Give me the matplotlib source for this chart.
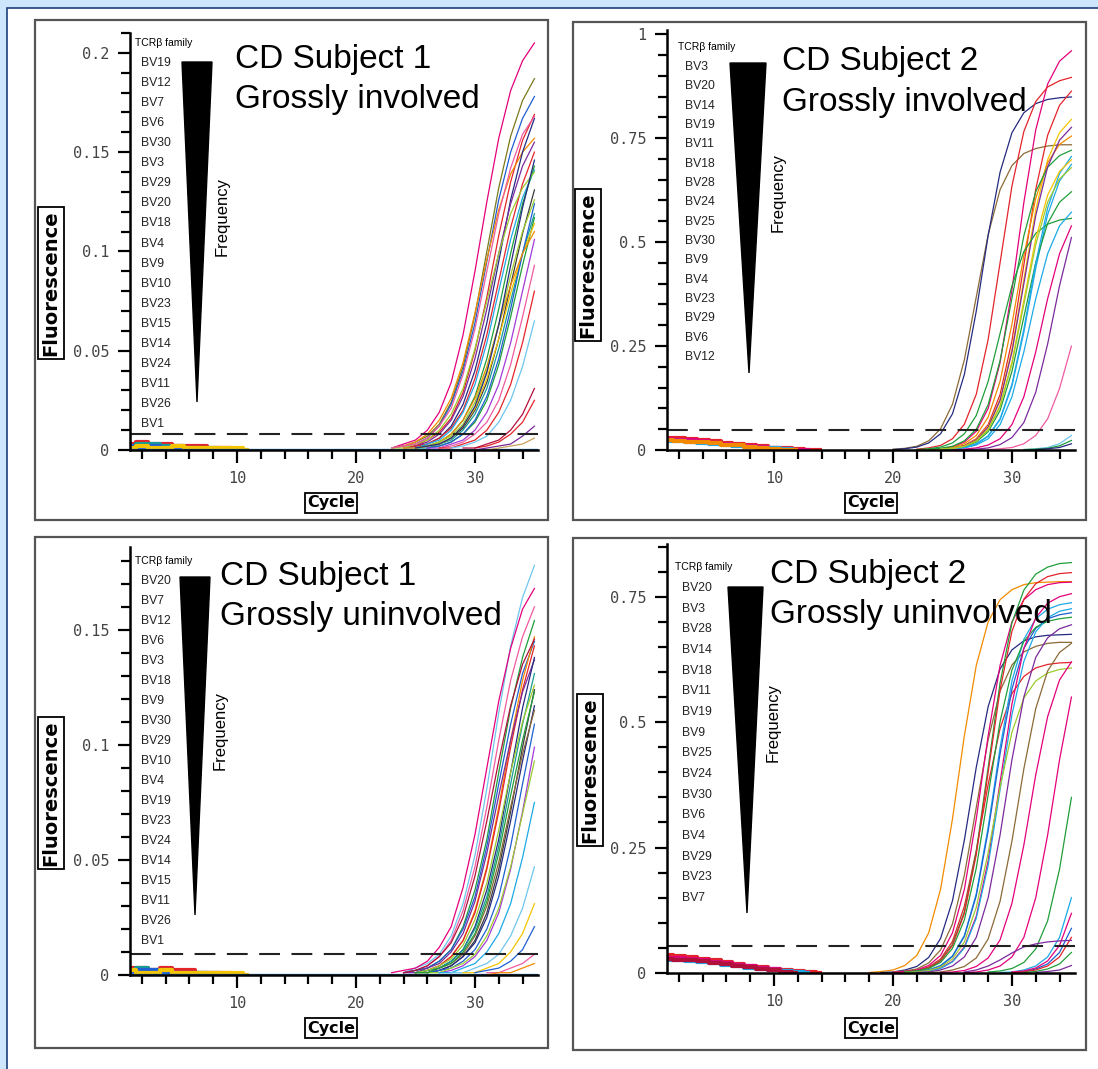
import numpy as np
import matplotlib
matplotlib.use("Agg")
import matplotlib.pyplot as plt
from matplotlib.patches import Rectangle, Polygon

# ---- data (fluorescence per cycle; each curve ends at cycle 35) ----
p1_curves = [
    [0.001, 0.003, 0.005, 0.010, 0.019, 0.034, 0.058, 0.090, 0.125, 0.157, 0.181, 0.196, 0.205],
    [0.001, 0.002, 0.004, 0.007, 0.013, 0.024, 0.042, 0.068, 0.100, 0.132, 0.158, 0.176, 0.187],
    [0.001, 0.002, 0.003, 0.006, 0.012, 0.023, 0.040, 0.064, 0.095, 0.126, 0.150, 0.167, 0.178],
    [0.001, 0.002, 0.005, 0.009, 0.016, 0.029, 0.050, 0.077, 0.108, 0.135, 0.156, 0.169],
    [0.001, 0.002, 0.004, 0.008, 0.015, 0.026, 0.044, 0.069, 0.096, 0.121, 0.139, 0.150, 0.157],
    [0.001, 0.002, 0.003, 0.006, 0.012, 0.023, 0.040, 0.064, 0.095, 0.126, 0.150, 0.167],
    [0.001, 0.002, 0.004, 0.008, 0.015, 0.027, 0.046, 0.071, 0.099, 0.124, 0.143, 0.155],
    [0.001, 0.002, 0.003, 0.006, 0.011, 0.020, 0.036, 0.058, 0.085, 0.112, 0.134, 0.150],
    [0.001, 0.001, 0.003, 0.005, 0.010, 0.019, 0.033, 0.054, 0.080, 0.106, 0.127, 0.141],
    [0.001, 0.002, 0.004, 0.008, 0.015, 0.027, 0.046, 0.071, 0.099, 0.124, 0.143],
    [0.001, 0.001, 0.003, 0.005, 0.010, 0.018, 0.031, 0.051, 0.075, 0.099, 0.119, 0.132, 0.140],
    [0.001, 0.002, 0.003, 0.006, 0.011, 0.020, 0.034, 0.056, 0.083, 0.109, 0.131],
    [0.001, 0.001, 0.003, 0.005, 0.010, 0.018, 0.031, 0.051, 0.075, 0.099, 0.119],
    [0.001, 0.002, 0.004, 0.008, 0.014, 0.025, 0.043, 0.067, 0.093, 0.117],
    [0.001, 0.002, 0.003, 0.006, 0.012, 0.021, 0.036, 0.056, 0.079, 0.099, 0.114],
    [0.001, 0.002, 0.004, 0.008, 0.015, 0.027, 0.046, 0.071, 0.099, 0.124],
    [0.001, 0.001, 0.002, 0.004, 0.008, 0.015, 0.026, 0.042, 0.063, 0.083, 0.099, 0.110],
    [0.001, 0.001, 0.003, 0.005, 0.010, 0.019, 0.033, 0.054, 0.080, 0.106],
    [0.001, 0.002, 0.004, 0.008, 0.014, 0.025, 0.043, 0.067, 0.093],
    [0.001, 0.001, 0.003, 0.005, 0.010, 0.019, 0.033, 0.054, 0.080],
    [0.001, 0.002, 0.004, 0.007, 0.014, 0.025, 0.042, 0.065],
    [0.001, 0.002, 0.004, 0.008, 0.014, 0.025],
    [0.001, 0.001, 0.003, 0.005, 0.010, 0.018, 0.031],
    [0.000, 0.001, 0.002, 0.003, 0.007, 0.012],
    [0.000, 0.001, 0.002, 0.003, 0.006],
    [0.001, 0.002, 0.003, 0.006, 0.012, 0.021, 0.038, 0.061, 0.090, 0.119, 0.142, 0.159, 0.168],
    [0.001, 0.002, 0.004, 0.007, 0.013, 0.024, 0.040, 0.063, 0.088, 0.110, 0.126],
    [0.001, 0.002, 0.003, 0.006, 0.012, 0.022, 0.039, 0.063, 0.093, 0.122, 0.146],
]
p1_base = [
    [0.003, 0.004, 0.003, 0.003, 0.002, 0.002, 0.002, 0.001, 0.001, 0.000],
    [0.002, 0.003, 0.003, 0.002, 0.002, 0.001, 0.001, 0.001, 0.000],
    [0.002, 0.001, 0.002, 0.001, 0.001, 0.001, 0.000],
    [0.001, 0.002, 0.001, 0.001, 0.002, 0.001, 0.001, 0.001, 0.001, 0.001, 0.000],
]

p2_curves = [
    [0.002, 0.004, 0.009, 0.022, 0.051, 0.110, 0.217, 0.368, 0.518, 0.626, 0.684, 0.713, 0.725, 0.731, 0.734, 0.734],
    [0.001, 0.003, 0.007, 0.017, 0.039, 0.087, 0.182, 0.334, 0.516, 0.668, 0.763, 0.811, 0.833, 0.843, 0.847, 0.849],
    [0.001, 0.003, 0.008, 0.019, 0.045, 0.100, 0.210, 0.385, 0.595, 0.770, 0.880, 0.935, 0.960],
    [0.002, 0.005, 0.011, 0.027, 0.062, 0.134, 0.266, 0.450, 0.635, 0.766, 0.838, 0.873, 0.888, 0.896],
    [0.002, 0.005, 0.011, 0.027, 0.061, 0.133, 0.263, 0.445, 0.627, 0.757, 0.829, 0.863],
    [0.002, 0.004, 0.010, 0.025, 0.057, 0.122, 0.242, 0.410, 0.578, 0.698, 0.763, 0.795],
    [0.001, 0.003, 0.006, 0.015, 0.035, 0.079, 0.165, 0.303, 0.467, 0.605, 0.691, 0.735, 0.755],
    [0.002, 0.004, 0.009, 0.022, 0.050, 0.109, 0.215, 0.365, 0.515, 0.621, 0.680, 0.708, 0.721],
    [0.001, 0.003, 0.006, 0.014, 0.033, 0.073, 0.154, 0.283, 0.437, 0.566, 0.647, 0.687],
    [0.002, 0.004, 0.010, 0.024, 0.055, 0.119, 0.236, 0.400, 0.564, 0.681, 0.745, 0.776],
    [0.001, 0.003, 0.008, 0.019, 0.044, 0.095, 0.189, 0.320, 0.451, 0.545, 0.596, 0.621],
    [0.001, 0.003, 0.007, 0.017, 0.039, 0.083, 0.165, 0.280, 0.395, 0.477, 0.521, 0.543, 0.553, 0.557],
    [0.001, 0.002, 0.005, 0.012, 0.027, 0.061, 0.128, 0.236, 0.364, 0.472, 0.539, 0.572],
    [0.001, 0.002, 0.005, 0.012, 0.027, 0.061, 0.128, 0.236, 0.364, 0.472, 0.539],
    [0.001, 0.002, 0.005, 0.013, 0.030, 0.066, 0.139, 0.255, 0.395, 0.511],
    [0.001, 0.003, 0.006, 0.015, 0.035, 0.075, 0.148, 0.250],
    [0.001, 0.003, 0.006, 0.015, 0.035],
    [0.001, 0.002, 0.004, 0.010, 0.023],
    [0.001, 0.003, 0.006, 0.015],
    [0.001, 0.003, 0.006, 0.015, 0.034, 0.075, 0.158, 0.291, 0.449, 0.582, 0.665, 0.706],
    [0.002, 0.004, 0.009, 0.022, 0.050, 0.107, 0.212, 0.360, 0.508, 0.613, 0.670, 0.698],
    [0.002, 0.004, 0.009, 0.021, 0.048, 0.104, 0.207, 0.350, 0.494, 0.596, 0.652, 0.679],
]
p2_base = [
    [0.030, 0.028, 0.026, 0.024, 0.021, 0.018, 0.015, 0.012, 0.009, 0.006, 0.004, 0.002, 0.001, 0.000],
    [0.026, 0.025, 0.023, 0.021, 0.018, 0.015, 0.013, 0.010, 0.007, 0.005, 0.003, 0.001, 0.000],
    [0.022, 0.021, 0.019, 0.017, 0.015, 0.013, 0.010, 0.008, 0.006, 0.004, 0.002, 0.000],
    [0.024, 0.022, 0.020, 0.019, 0.016, 0.013, 0.011, 0.008, 0.005, 0.003, 0.001, 0.000],
]

p3_curves = [
    [0.001, 0.003, 0.005, 0.009, 0.017, 0.031, 0.052, 0.081, 0.114, 0.143, 0.164, 0.178],
    [0.001, 0.002, 0.003, 0.006, 0.012, 0.021, 0.038, 0.061, 0.090, 0.119, 0.142, 0.159, 0.168],
    [0.001, 0.002, 0.004, 0.008, 0.015, 0.028, 0.047, 0.073, 0.102, 0.128, 0.147, 0.160],
    [0.001, 0.002, 0.003, 0.006, 0.011, 0.021, 0.037, 0.059, 0.088, 0.116, 0.138, 0.154],
    [0.001, 0.002, 0.003, 0.006, 0.011, 0.020, 0.034, 0.056, 0.083, 0.109, 0.131, 0.145],
    [0.001, 0.002, 0.004, 0.008, 0.015, 0.028, 0.047, 0.073, 0.102, 0.128, 0.147],
    [0.001, 0.002, 0.004, 0.008, 0.015, 0.027, 0.046, 0.071, 0.099, 0.124, 0.143],
    [0.001, 0.001, 0.003, 0.005, 0.010, 0.018, 0.032, 0.053, 0.078, 0.102, 0.123, 0.137],
    [0.001, 0.002, 0.003, 0.006, 0.011, 0.021, 0.037, 0.059, 0.088, 0.116, 0.138],
    [0.001, 0.002, 0.003, 0.006, 0.011, 0.020, 0.034, 0.056, 0.083, 0.109, 0.131],
    [0.001, 0.002, 0.004, 0.007, 0.013, 0.024, 0.040, 0.063, 0.088, 0.110, 0.126],
    [0.001, 0.002, 0.004, 0.008, 0.015, 0.027, 0.046, 0.071, 0.099, 0.124],
    [0.001, 0.002, 0.004, 0.008, 0.014, 0.025, 0.043, 0.067, 0.093, 0.117],
    [0.001, 0.001, 0.003, 0.005, 0.009, 0.017, 0.030, 0.049, 0.073, 0.096, 0.115],
    [0.001, 0.002, 0.003, 0.006, 0.011, 0.020, 0.034, 0.056, 0.083, 0.109],
    [0.001, 0.002, 0.004, 0.008, 0.015, 0.027, 0.046, 0.071, 0.099],
    [0.001, 0.001, 0.003, 0.005, 0.009, 0.017, 0.029, 0.047, 0.070, 0.093],
    [0.001, 0.001, 0.003, 0.005, 0.010, 0.018, 0.031, 0.051, 0.075],
    [0.001, 0.001, 0.003, 0.005, 0.009, 0.017, 0.029, 0.047],
    [0.001, 0.001, 0.003, 0.005, 0.010, 0.018, 0.031],
    [0.001, 0.002, 0.003, 0.006, 0.011, 0.021],
    [0.001, 0.001, 0.003, 0.005, 0.009],
    [0.000, 0.001, 0.001, 0.003, 0.005],
    [0.001, 0.002, 0.004, 0.008, 0.014, 0.025, 0.043, 0.067, 0.093, 0.117, 0.135, 0.146],
    [0.001, 0.001, 0.003, 0.005, 0.010, 0.018, 0.032, 0.053, 0.078, 0.102, 0.123],
]
p3_base = [
    [0.003, 0.003, 0.002, 0.003, 0.002, 0.002, 0.001, 0.001, 0.001, 0.000],
    [0.002, 0.003, 0.002, 0.002, 0.001, 0.001, 0.001, 0.000],
    [0.001, 0.002, 0.002, 0.001, 0.001, 0.001, 0.001, 0.001, 0.000],
    [0.002, 0.001, 0.001, 0.002, 0.001, 0.001, 0.001, 0.001, 0.001, 0.001, 0.000],
]

p4_curves = [
    [0.001, 0.003, 0.006, 0.015, 0.035, 0.080, 0.167, 0.307, 0.473, 0.613, 0.700, 0.744, 0.764, 0.774, 0.778, 0.779, 0.780, 0.780],
    [0.001, 0.002, 0.006, 0.013, 0.031, 0.069, 0.144, 0.265, 0.410, 0.531, 0.606, 0.644, 0.662, 0.670, 0.673, 0.674, 0.675],
    [0.002, 0.004, 0.008, 0.020, 0.046, 0.098, 0.195, 0.330, 0.465, 0.562, 0.614, 0.640, 0.651, 0.657, 0.659, 0.659],
    [0.001, 0.002, 0.005, 0.012, 0.028, 0.063, 0.133, 0.244, 0.376, 0.487, 0.557, 0.591, 0.608, 0.615, 0.618, 0.619],
    [0.001, 0.003, 0.006, 0.015, 0.035, 0.080, 0.167, 0.307, 0.473, 0.613, 0.700, 0.744, 0.764, 0.774, 0.778, 0.779],
    [0.002, 0.004, 0.010, 0.025, 0.057, 0.122, 0.242, 0.410, 0.578, 0.698, 0.763, 0.795, 0.809, 0.816, 0.818],
    [0.002, 0.004, 0.010, 0.024, 0.055, 0.119, 0.236, 0.400, 0.564, 0.681, 0.745, 0.776, 0.790, 0.796, 0.798],
    [0.001, 0.003, 0.006, 0.015, 0.034, 0.075, 0.158, 0.291, 0.449, 0.582, 0.665, 0.706, 0.725, 0.734, 0.738],
    [0.001, 0.003, 0.006, 0.014, 0.033, 0.073, 0.154, 0.283, 0.437, 0.566, 0.647, 0.687, 0.706, 0.714, 0.718],
    [0.002, 0.004, 0.009, 0.021, 0.049, 0.106, 0.209, 0.355, 0.501, 0.604, 0.661, 0.689, 0.701, 0.706, 0.709],
    [0.002, 0.004, 0.010, 0.023, 0.052, 0.113, 0.224, 0.380, 0.536, 0.647, 0.708, 0.737, 0.750, 0.756],
    [0.002, 0.004, 0.009, 0.022, 0.050, 0.109, 0.215, 0.365, 0.515, 0.621, 0.680, 0.708, 0.721, 0.726],
    [0.001, 0.002, 0.005, 0.012, 0.028, 0.062, 0.131, 0.240, 0.370, 0.480, 0.548, 0.582, 0.598, 0.605, 0.608],
    [0.001, 0.002, 0.006, 0.014, 0.032, 0.071, 0.150, 0.275, 0.425, 0.550, 0.629, 0.668, 0.686, 0.694],
    [0.001, 0.002, 0.006, 0.013, 0.030, 0.068, 0.143, 0.263, 0.407, 0.527, 0.602, 0.639, 0.657],
    [0.001, 0.002, 0.005, 0.013, 0.030, 0.066, 0.139, 0.255, 0.395, 0.511, 0.584, 0.620],
    [0.001, 0.002, 0.006, 0.014, 0.032, 0.071, 0.150, 0.275, 0.425, 0.550],
    [0.002, 0.004, 0.009, 0.021, 0.048, 0.104, 0.207, 0.350],
    [0.001, 0.002, 0.006, 0.014, 0.032, 0.071, 0.150],
    [0.001, 0.003, 0.008, 0.018, 0.041, 0.089],
    [0.002, 0.004, 0.010, 0.024, 0.055, 0.119],
    [0.001, 0.002, 0.006, 0.014, 0.032, 0.071],
    [0.001, 0.003, 0.008, 0.018, 0.041],
    [0.002, 0.006, 0.014, 0.026, 0.040, 0.052, 0.058, 0.062, 0.064, 0.065],
    [0.001, 0.003, 0.006, 0.015],
]
p4_base = [
    [0.035, 0.033, 0.031, 0.028, 0.025, 0.021, 0.018, 0.014, 0.011, 0.008, 0.005, 0.003, 0.001, 0.000],
    [0.030, 0.029, 0.027, 0.025, 0.022, 0.019, 0.016, 0.013, 0.010, 0.007, 0.004, 0.002, 0.000],
    [0.026, 0.025, 0.023, 0.021, 0.019, 0.016, 0.013, 0.010, 0.007, 0.005, 0.003, 0.001, 0.000],
    [0.028, 0.026, 0.025, 0.023, 0.020, 0.017, 0.014, 0.011, 0.008, 0.005, 0.002, 0.000],
]

thresholds = [0.008, 0.048, 0.009, 0.054]

titles = [("CD Subject 1", "Grossly involved"), ("CD Subject 2", "Grossly involved"),
          ("CD Subject 1", "Grossly uninvolved"), ("CD Subject 2", "Grossly uninvolved")]

families = [
    ["BV19", "BV12", "BV7", "BV6", "BV30", "BV3", "BV29", "BV20", "BV18", "BV4",
     "BV9", "BV10", "BV23", "BV15", "BV14", "BV24", "BV11", "BV26", "BV1"],
    ["BV3", "BV20", "BV14", "BV19", "BV11", "BV18", "BV28", "BV24", "BV25", "BV30",
     "BV9", "BV4", "BV23", "BV29", "BV6", "BV12"],
    ["BV20", "BV7", "BV12", "BV6", "BV3", "BV18", "BV9", "BV30", "BV29", "BV10",
     "BV4", "BV19", "BV23", "BV24", "BV14", "BV15", "BV11", "BV26", "BV1"],
    ["BV20", "BV3", "BV28", "BV14", "BV18", "BV11", "BV19", "BV9", "BV25", "BV24",
     "BV30", "BV6", "BV4", "BV29", "BV23", "BV7"],
]

y_ticks = [[0, 0.05, 0.1, 0.15, 0.2], [0, 0.25, 0.5, 0.75, 1], [0, 0.05, 0.1, 0.15], [0, 0.25, 0.5, 0.75]]
y_ticklabels = [["0", "0.05", "0.1", "0.15", "0.2"], ["0", "0.25", "0.5", "0.75", "1"],
                ["0", "0.05", "0.1", "0.15"], ["0", "0.25", "0.5", "0.75"]]
x_ticks = [10, 20, 30]

# ---- styles ----
C = {'mag': '#e4007c', 'red': '#e3242b', 'navy': '#262a80', 'blue': '#1f5fd1', 'cyan': '#1ca9e6',
     'green': '#1f9e3a', 'lime': '#9ccc2e', 'yel': '#f5c400', 'ora': '#f28a00', 'pur': '#7a2a9c',
     'brn': '#8b6a36', 'gray': '#3b3b3b', 'teal': '#169c96', 'pink': '#ef5aa0', 'crim': '#b0103a',
     'vio': '#a23ad6', 'tan': '#c8a25a', 'ltb': '#6ec6ee', 'olive': '#7a7a1a'}
p1_colors = ['mag', 'olive', 'blue', 'red', 'ora', 'navy', 'pur', 'red', 'cyan', 'green', 'lime', 'gray',
             'teal', 'green', 'yel', 'blue', 'ora', 'vio', 'pink', 'red', 'ltb', 'red', 'crim', 'pur',
             'tan', 'pink', 'lime', 'navy']
p2_colors = ['brn', 'navy', 'mag', 'red', 'red', 'yel', 'ora', 'green', 'cyan', 'pur', 'green', 'green',
             'cyan', 'mag', 'pur', 'pink', 'ltb', 'green', 'navy', 'cyan', 'yel', 'lime']
p3_colors = ['ltb', 'mag', 'pink', 'green', 'blue', 'ora', 'red', 'pur', 'navy', 'teal', 'lime', 'gray',
             'navy', 'brn', 'blue', 'vio', 'lime', 'cyan', 'ltb', 'yel', 'blue', 'pink', 'ora', 'crim', 'green']
p4_colors = ['ora', 'navy', 'brn', 'red', 'mag', 'green', 'red', 'cyan', 'blue', 'green', 'mag', 'cyan',
             'lime', 'pur', 'brn', 'mag', 'mag', 'green', 'cyan', 'blue', 'mag', 'red', 'green', 'pur', 'pur']
base_colors = [['red', 'teal', 'blue', 'yel'], ['red', 'mag', 'cyan', 'ora'],
               ['red', 'teal', 'blue', 'yel'], ['red', 'mag', 'cyan', 'crim']]

W, H = 1098, 1069


def fx(x):
    return x / W


def fy(y):
    return 1 - y / H


def box(x0, y0, x1, y1):
    return [fx(x0), fy(y1), (x1 - x0) / W, (y1 - y0) / H]


fig = plt.figure(figsize=(W / 100, H / 100), dpi=100)
fig.patch.set_facecolor('#cde6fb')
fig.add_artist(Rectangle((fx(7), -0.02), 1.1, fy(8) + 0.02, transform=fig.transFigure,
                         fc='white', ec='#1c3f7a', lw=1.2, zorder=-5))

# panel frames (px)
frames = [(35, 20, 548, 520), (573, 22, 1086, 520), (35, 537, 548, 1048), (573, 538, 1086, 1050)]
for x0, y0, x1, y1 in frames:
    fig.add_artist(Rectangle((fx(x0), fy(y1)), (x1 - x0) / W, (y1 - y0) / H, transform=fig.transFigure,
                             fill=False, ec='#555555', lw=1.6, zorder=-4))

axes_px = [(130, 33, 538, 450), (667, 30, 1075, 450), (130, 547, 538, 975), (667, 544, 1075, 973)]
ylims = [0.21, 1.01, 0.186, 0.855]
ystep = [0.01, 0.05, 0.01, 0.05]
curves_all = [p1_curves, p2_curves, p3_curves, p4_curves]
colors_all = [p1_colors, p2_colors, p3_colors, p4_colors]
bases_all = [p1_base, p2_base, p3_base, p4_base]

# text layout per panel (px)
title_pos = [(235, 68, 108), (782, 70, 111), (220, 585, 625), (770, 583, 623)]
fam_head = [(135, 43), (678, 47), (135, 561), (675, 567)]
fam_list = [(141, 63, 20.06), (685, 67, 19.33), (141, 581, 20.0), (682, 588, 20.67)]
wedges = [((182, 62), (212, 62), (197, 402)), ((730, 63), (766, 63), (749, 373)),
          ((180, 577), (210, 577), (195, 915)), ((728, 587), (763, 587), (747, 913))]
freq_pos = [(222, 217), (778, 193), (220, 730), (773, 722)]
fluor_pos = [(51, 283), (588, 265), (51, 793), (590, 770)]
cycle_pos = [(331, 503), (871, 503), (331, 1028), (871, 1028)]

for i in range(4):
    ax = fig.add_axes(box(*axes_px[i]))
    ax.patch.set_alpha(0)
    ax.set_xlim(1, 35.3)
    ax.set_ylim(0, ylims[i])

    for b, cn in zip(bases_all[i], base_colors[i]):
        cyc = np.arange(1, len(b) + 1)
        ax.plot(cyc, b, color=C[cn], lw=3, drawstyle='steps-mid', solid_capstyle='butt', zorder=2)
    if i in (0, 2):
        ax.axhline(0, color='#2f86c8', lw=2.4, zorder=2)

    for vals, cn in zip(curves_all[i], colors_all[i]):
        cyc = np.arange(36 - len(vals), 36)
        ax.plot(cyc, vals, color=C[cn], lw=0.9, zorder=3)

    ax.axhline(thresholds[i], color='#222222', lw=1.5, dashes=(10, 5.5), zorder=4)

    for s in ['top', 'right']:
        ax.spines[s].set_visible(False)
    for s in ['left', 'bottom']:
        ax.spines[s].set_linewidth(1.8)
        ax.spines[s].set_zorder(5)
    ax.set_xticks(x_ticks)
    ax.set_xticklabels([str(t) for t in x_ticks])
    ax.set_xticks([t for t in range(2, 35, 2) if t % 10], minor=True)
    ax.set_yticks(y_ticks[i])
    ax.set_yticklabels(y_ticklabels[i])
    ax.set_yticks(np.arange(0, ylims[i] + 1e-9, ystep[i]), minor=True)
    ax.tick_params(which='major', length=9, width=1.6, pad=6, labelsize=11, labelcolor='#444444')
    ax.tick_params(which='minor', length=6.5, width=1.6)
    for lab in ax.get_xticklabels() + ax.get_yticklabels():
        lab.set_fontfamily('DejaVu Sans Mono')

    tx, b1, b2 = title_pos[i]
    fig.text(fx(tx), fy(b1), titles[i][0], fontsize=24, family='Liberation Sans', va='baseline')
    fig.text(fx(tx), fy(b2), titles[i][1], fontsize=24, family='Liberation Sans', va='baseline')

    hx, hy = fam_head[i]
    fig.text(fx(hx), fy(hy), "TCRβ family", fontsize=7.5, family='Liberation Sans', va='center')
    lx, ly, dy = fam_list[i]
    for j, name in enumerate(families[i]):
        fig.text(fx(lx), fy(ly + j * dy), name, fontsize=8.8, family='Liberation Sans',
                 va='center', color='#222222')

    fig.add_artist(Polygon([(fx(px), fy(py)) for px, py in wedges[i]], closed=True,
                           transform=fig.transFigure, fc='black', ec='black'))
    fx0, fy0 = freq_pos[i]
    fig.text(fx(fx0), fy(fy0), "Frequency", rotation=90, fontsize=12, family='Liberation Sans',
             ha='center', va='center')

    lx, ly = fluor_pos[i]
    fig.text(fx(lx), fy(ly), "Fluorescence", rotation=90, fontsize=14, fontweight='bold',
             ha='center', va='center',
             bbox=dict(boxstyle='square,pad=0.18', fc='white', ec='black', lw=1.3))
    cx, cy = cycle_pos[i]
    fig.text(fx(cx), fy(cy), "Cycle", fontsize=11.5, fontweight='bold', ha='center', va='center',
             bbox=dict(boxstyle='square,pad=0.15', fc='white', ec='black', lw=1.3))

fig.savefig('out.png', dpi=100)
